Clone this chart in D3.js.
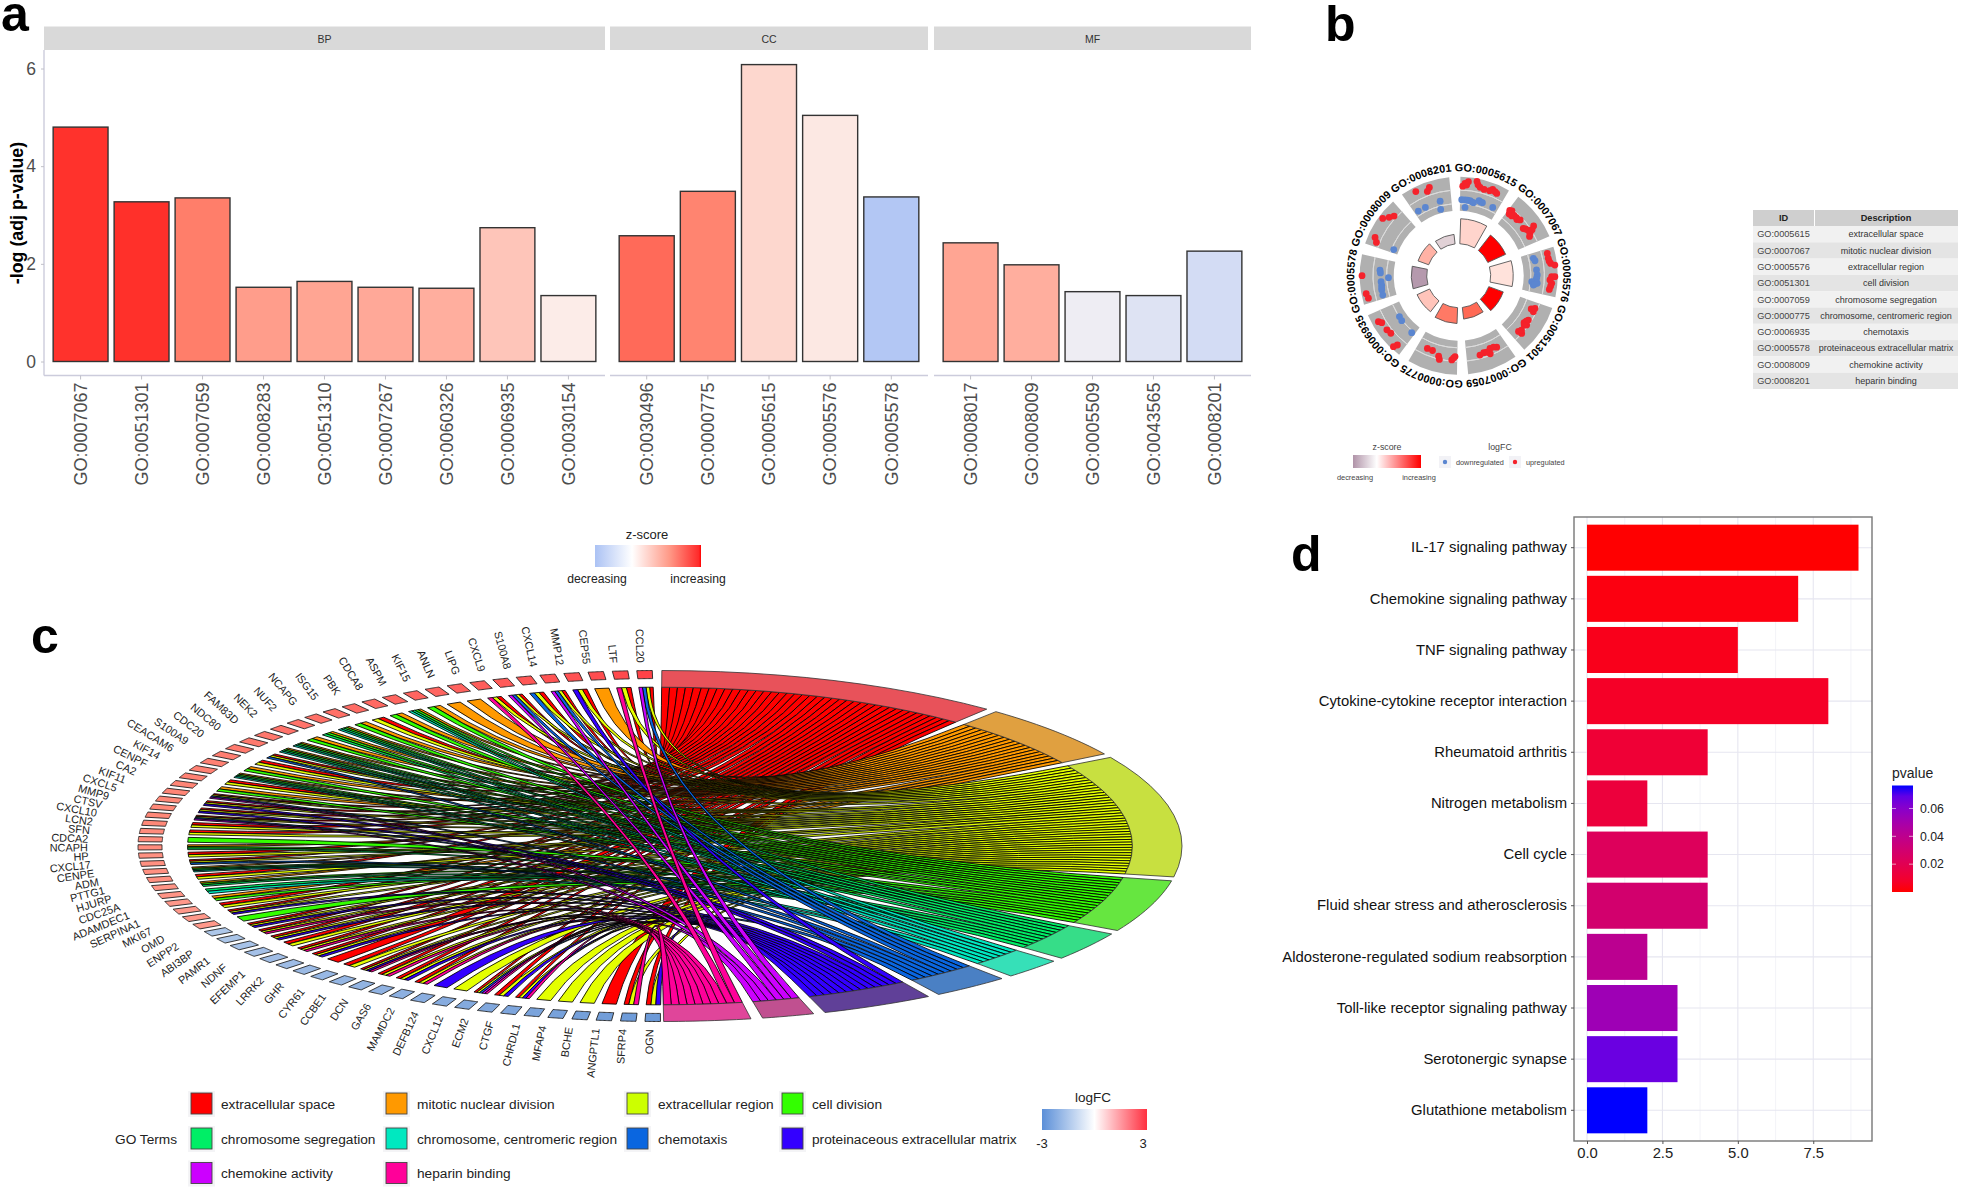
<!DOCTYPE html>
<html><head><meta charset="utf-8">
<script src="https://cdn.jsdelivr.net/npm/d3@7/dist/d3.min.js"></script>
<style>
html,body{margin:0;padding:0;background:#fff}
svg{display:block}
text{font-family:"Liberation Sans",Arial,sans-serif}
</style></head><body>
<svg id="chart" width="1961" height="1188" viewBox="0 0 1961 1188"></svg>
<script>
// ---------- panel a ----------
const bpIds=["GO:0007067","GO:0051301","GO:0007059","GO:0008283","GO:0051310","GO:0007267","GO:0060326","GO:0006935","GO:0030154"];
const bpVals=[4.80,3.27,3.35,1.52,1.64,1.52,1.50,2.74,1.35];
const bpZ=[0.87,0.88,0.58,0.42,0.38,0.36,0.33,0.22,0.04];
const ccIds=["GO:0030496","GO:0000775","GO:0005615","GO:0005576","GO:0005578"];
const ccVals=[2.575,3.485,6.08,5.04,3.37];
const ccZ=[0.66,0.55,0.14,0.06,-0.45];
const mfIds=["GO:0008017","GO:0008009","GO:0005509","GO:0043565","GO:0008201"];
const mfVals=[2.43,1.98,1.43,1.35,2.26];
const mfZ=[0.38,0.33,-0.08,-0.18,-0.25];
const yTicksA=[0,2,4,6];
// ---------- panel b ----------
const circleIds=["GO:0005615","GO:0007067","GO:0005576","GO:0051301","GO:0007059","GO:0000775","GO:0006935","GO:0005578","GO:0008009","GO:0008201"];
const circleDesc=["extracellular space","mitotic nuclear division","extracellular region","cell division","chromosome segregation","chromosome, centromeric region","chemotaxis","proteinaceous extracellular matrix","chemokine activity","heparin binding"];
const circleHeight=[6.0,4.7,5.4,3.7,2.8,3.8,3.3,3.7,2.7,2.3];
const circleZ=[0.15,1,0.09,1,0.62,0.55,0.22,-0.75,0.3,-0.3];
// [term, angle within the circle, logFC]
const circlePoints=[
[0,2.6,1.85],[0,3.9,2.35],[0,5.9,2.7],[0,5,2.08],[0,11,2.96],[0,12,2.43],[0,13.6,2.08],[0,16.4,1.9],[0,20,2],[0,21.5,2.4],[0,23.4,2.17],[0,24.8,2.03],
[0,2.3,-.56],[0,4.8,-.56],[0,6.7,-.56],[0,8.6,-.58],[0,10,-.74],[0,11.4,-.83],[0,15.2,-.26],[0,16.6,-.39],[0,18,-.42],[0,5.3,-1.87],[0,26.5,-.51],
[1,38,.67],[1,39.4,.85],[1,39.3,.1],[1,41.6,.14],[1,42.5,.49],[1,44.8,.49],[1,46,.3],[1,47.8,.67],[1,53.8,.14],[1,55,.4],[1,56.8,.67],[1,56.4,1.9],[1,59.3,.67],[1,61,.32],[1,58,1.3],
[2,75.9,2.15],[2,79,2.13],[2,82.4,2.4],[2,83.7,3.1],[2,81,2.2],[2,90.6,2.43],[2,90.6,3],[2,92.7,2.15],[2,94.7,2.5],[2,98.6,2.2],[2,96.5,2.35],
[2,76.9,-.44],[2,78.9,-.25],[2,85.8,-.2],[2,89.5,-.1],[2,91.5,-.2],[2,93.2,-.3],[2,94.7,-1.04],[2,97.1,-.7],[2,95.5,-.05],[2,96.5,-.5],
[3,115.7,.65],[3,114.6,.1],[3,113.2,.67],[3,122.5,.6],[3,126,.85],[3,125.7,.23],[3,124,.4],[3,127,.5],[3,133,.46],[3,132.5,1.1],[3,131,.7],
[4,165,.53],[4,162,.32],[4,158,.9],[4,156.7,0],[4,152,.32],[4,154,.05],[4,160,.4],
[5,203.3,0],[5,199.3,.02],[5,194,.67],[5,193,1.2],[5,184.7,.95],[5,182.6,.32],[5,183.6,.6],
[6,240.2,2.36],[6,238.6,1.94],[6,233,1.9],[6,229.7,1.73],[6,222.6,3.05],[6,221.5,2.36],[6,235.4,-1.27],[6,231.7,-1.16],[6,219.5,-.93],
[7,270,3.09],[7,259,2.66],[7,256,2.45],[7,274,-.05],[7,272,-.15],[7,268.4,-1.57],[7,265.6,-.23],[7,263,-.28],[7,259.4,-.16],[7,255.7,-.14],[7,261,-.2],
[8,307,2.82],[8,310,2.06],[8,312.7,1.55],[8,294.6,2.26],[8,292,1.69],[8,291.9,-1.62],
[9,333,2.7],[9,339.6,1.9],[9,341.6,2.43],[9,328,-.53],[9,334,-.56],[9,346,-.42],[9,344.8,-1.85]];
// ---------- panel c ----------
const chordGenes=["OGN","SFRP4","ANGPTL1","BCHE","MFAP4","CHRDL1","CTGF","ECM2","CXCL12","DEFB124","MAMDC2","GAS6","DCN","CCBE1","CYR61","GHR","LRRK2","EFEMP1","NDNF","PAMR1","ABI3BP","ENPP2","OMD","MKI67","SERPINA1","ADAMDEC1","CDC25A","HJURP","PTTG1","ADM","CENPE","CXCL17","HP","NCAPH","CDCA2","SFN","LCN2","CXCL10","CTSV","MMP9","CXCL5","KIF11","CA2","CENPF","KIF14","CEACAM6","S100A9","CDC20","NDC80","FAM83D","NEK2","NUF2","NCAPG","ISG15","PBK","CDCA8","ASPM","KIF15","ANLN","LIPG","CXCL9","S100A8","CXCL14","MMP12","CEP55","LTF","CCL20"];
const chordLogFC=[-2.5,-2.45,-2.4,-2.35,-2.3,-2.25,-2.2,-2.15,-2.1,-2.05,-2.0,-1.95,-1.9,-1.85,-1.8,-1.75,-1.7,-1.65,-1.6,-1.55,-1.5,-1.45,-1.4,
1.3,1.3,1.3,1.3,1.35,1.35,1.4,1.4,1.4,1.4,1.45,1.45,1.45,1.5,1.5,1.5,1.5,1.55,1.55,1.6,1.6,1.6,1.65,1.7,1.7,1.75,1.8,1.8,1.85,1.85,1.9,1.95,2,2,2,2.05,2.1,2.15,2.2,2.25,2.3,2.35,2.4,2.5];
const chordLinks=["ach","acj","a","c","c","c","achj","ach","acgij","c","h","acj","ach","acj","achj","ac","a","ach","acj","ac","ach","acj","ach","d","ach","ac","bd","ef","bde","ac","bdef","acg","ac","bde","d","ac","ac","acgi","ach","ach","acgi","bd","ac","bdef","bd","ac","acg","bdef","bdef","bd","bde","bdef","bd","ac","bd","bdef","bd","b","b","acj","acgi","acg","acgi","ach","b","acj","acgi"];
const termKeys="abcdefghij".split("");
const termLabels=circleDesc;
const termFill=["#ff0000","#ff9900","#e4ff00","#33ff00","#00ee66","#00e8c0","#0a66e0","#3300ff","#cc00ff","#ff0099"];
const termRing=["#e8525a","#e0a040","#c8e040","#66e640","#36dd88","#36e0b8","#4a80c4","#604098","#c05090","#e0459a"];
const logFCLegend=[-3,3];
// ---------- panel d ----------
const pathways=["IL-17 signaling pathway","Chemokine signaling pathway","TNF signaling pathway","Cytokine-cytokine receptor interaction","Rheumatoid arthritis","Nitrogen metabolism","Cell cycle","Fluid shear stress and atherosclerosis","Aldosterone-regulated sodium reabsorption","Toll-like receptor signaling pathway","Serotonergic synapse","Glutathione metabolism"];
const pathCounts=[9,7,5,8,4,2,4,4,2,3,3,2];
const pathP=[0.0001,0.002,0.004,0.007,0.011,0.013,0.023,0.029,0.041,0.053,0.067,0.0765];
const pTicks=[0.02,0.04,0.06];
const xTicksD=[0,2.5,5,7.5];

const svg=d3.select("#chart");
const defs=svg.append("defs");
function grad(id,stops){
  const g=defs.append("linearGradient").attr("id",id);
  stops.forEach(s=>g.append("stop").attr("offset",s[0]).attr("stop-color",s[1]));
  return g;
}
function label(g,x,y,t,size,fill,anchor,weight){
  return g.append("text").attr("x",x).attr("y",y).attr("dy","0.35em").attr("font-size",size).attr("fill",fill)
    .attr("text-anchor",anchor||"start").attr("font-weight",weight||"normal").text(t);
}
[["a",1,31],["b",1325,41],["c",31,653],["d",1291,571]].forEach(p=>{
  svg.append("text").attr("x",p[1]).attr("y",p[2]).attr("font-size",50).attr("font-weight","bold").attr("fill","#000").text(p[0]);
});

// ===== panel a =====
(function(){
  const g=svg.append("g");
  const zColor=d3.scaleLinear().domain([-1,0,0.3,0.6,1]).range(["#5a8ff5","#fbf5f3","#ffb4a4","#ff7a66","#ff1010"]);
  const y=d3.scaleLinear().domain([0,6]).range([361.5,68.5]);
  const facets=[["BP",bpIds,bpVals,bpZ,44,605],["CC",ccIds,ccVals,ccZ,610,928],["MF",mfIds,mfVals,mfZ,934,1251]];
  facets.forEach(f=>{
    const x=d3.scaleBand().domain(f[1]).range([f[4],f[5]]).paddingInner(0.1).paddingOuter(0.15);
    g.append("rect").attr("x",f[4]).attr("y",26.5).attr("width",f[5]-f[4]).attr("height",23.5).attr("fill","#d9d9d9");
    label(g,(f[4]+f[5])/2,39,f[0],10.5,"#333","middle");
    g.selectAll(null).data(f[1]).enter().append("rect")
      .attr("x",d=>x(d)).attr("width",x.bandwidth())
      .attr("y",(d,i)=>y(f[2][i])).attr("height",(d,i)=>y(0)-y(f[2][i]))
      .attr("fill",(d,i)=>zColor(f[3][i])).attr("stroke","#333").attr("stroke-width",1.4);
    const ax=g.append("g").attr("transform","translate(0,375.5)").call(d3.axisBottom(x).tickSize(4).tickPadding(4));
    ax.select(".domain").attr("stroke","#ccccdc").attr("stroke-width",1.4).attr("d",`M${f[4]},0H${f[5]}`);
    ax.selectAll("line").attr("stroke","#c0c0c8");
    ax.selectAll("text").attr("font-size",18).attr("fill","#4d4d4d").attr("font-family",null)
      .attr("transform","translate(0,7) rotate(-90)").attr("x",0).attr("y",0).attr("dy","0.35em").attr("text-anchor","end");
  });
  const ay=g.append("g").attr("transform","translate(44,0)").call(d3.axisLeft(y).tickValues(yTicksA).tickFormat(d3.format("d")).tickSize(3).tickPadding(5));
  ay.select(".domain").attr("stroke","#ccccdc").attr("stroke-width",1.4).attr("d","M0,50V375.5");
  ay.selectAll("line").attr("stroke","#c0c0c8");
  ay.selectAll("text").attr("font-size",17.5).attr("fill","#4d4d4d").attr("font-family",null);
  g.append("text").attr("transform","translate(16.5,213) rotate(-90)").attr("text-anchor","middle").attr("dy","0.35em")
    .attr("font-size",17.8).attr("font-weight","bold").attr("fill","#000").text("-log (adj p-value)");
  grad("gz",[[0,zColor(-0.5)],[0.35,"#fff"],[0.7,"#ff9a88"],[0.98,"#ff2a2a"],[1,"#f00"]]);
  g.append("rect").attr("x",595).attr("y",545).attr("width",106).attr("height",22).attr("fill","url(#gz)");
  label(g,647,534,"z-score",13,"#222","middle");
  label(g,597,579,"decreasing",12.2,"#222","middle");
  label(g,698,579,"increasing",12.2,"#222","middle");
})();

// ===== panel b =====
(function(){
  const g=svg.append("g").attr("transform","translate(1458.7,275.7)");
  const rad=Math.PI/180;
  const zCol=d3.scaleLinear().domain([-1,0,0.6,1]).range(["#9c7a96","#fff6f2","#ff6e58","#ff0000"]);
  const rFC=d3.scaleLinear().domain([-2.5,3.5]).range([65,99]);
  const rBar=d3.scaleLinear().domain([0,6]).range([32,57]);
  const arc=d3.arc();
  circleIds.forEach((id,i)=>{
    const s=36*i;
    g.append("path").attr("fill","#b0b0b0").attr("d",arc({innerRadius:65,outerRadius:99,startAngle:(s+1)*rad,endAngle:(s+30.5)*rad}));
    [-1.25,1.15].forEach(v=>{
      g.append("path").attr("fill","none").attr("stroke","#dcdcdc").attr("stroke-width",1)
       .attr("d",d3.arc()({innerRadius:rFC(v),outerRadius:rFC(v),startAngle:(s+1)*rad,endAngle:(s+30.5)*rad}));
    });
    g.append("path").attr("fill",zCol(circleZ[i])).attr("stroke","#555").attr("stroke-width",0.9)
     .attr("d",arc({innerRadius:32,outerRadius:rBar(circleHeight[i]),startAngle:(s+2)*rad,endAngle:(s+29.5)*rad}));
    const a0=(s+15-33)*rad,a1=(s+15+33)*rad,R=104.5;
    const p=d3.path();p.arc(0,0,R,a0-Math.PI/2,a1-Math.PI/2,false);
    defs.append("path").attr("id","lab"+i).attr("d",p.toString());
    g.append("text").attr("font-size",10.8).attr("font-weight","bold").attr("fill","#000").attr("text-anchor","middle")
      .append("textPath").attr("href","#lab"+i).attr("startOffset","50%").text(id);
  });
  g.selectAll("circle.pt").data(circlePoints).enter().append("circle").attr("class","pt")
    .attr("cx",d=>rFC(d[2])*Math.sin(d[1]*rad)).attr("cy",d=>-rFC(d[2])*Math.cos(d[1]*rad)).attr("r",3.4)
    .attr("fill",d=>{
      const blue=(d[2]<0&&d[0]!==1&&d[0]!==3)||(d[0]===2&&d[2]<1)||(d[0]===7&&d[2]<1);
      return blue?"#5b86d0":"#f5222b";
    });
  const l=svg.append("g");
  grad("gb",[[0,zCol(-0.8)],[0.35,"#fff"],[0.95,"#ff1010"],[1,"#f00"]]);
  l.append("rect").attr("x",1353).attr("y",455).attr("width",68).attr("height",13).attr("fill","url(#gb)");
  label(l,1387,447,"z-score",8.8,"#444","middle");
  label(l,1355,477,"decreasing",7.4,"#444","middle");
  label(l,1419,477,"increasing",7.4,"#444","middle");
  label(l,1500,447,"logFC",8.8,"#444","middle");
  [[1439,"#5b86d0","downregulated"],[1509,"#f5222b","upregulated"]].forEach(k=>{
    l.append("rect").attr("x",k[0]).attr("y",456).attr("width",12).attr("height",12).attr("fill","#f2f2f6");
    l.append("circle").attr("cx",k[0]+6).attr("cy",462).attr("r",2.2).attr("fill",k[1]);
    label(l,k[0]+17,462,k[2],7.3,"#444");
  });
  // table
  const t=svg.append("g");
  const x0=1753,x1=1958,xd=1815,top=210,hh=16,rh=16.3;
  t.append("rect").attr("x",x0).attr("y",top).attr("width",xd-x0-1).attr("height",hh).attr("fill","#cfcfcf");
  t.append("rect").attr("x",xd).attr("y",top).attr("width",x1-xd).attr("height",hh).attr("fill","#cfcfcf");
  label(t,1783.5,top+hh/2,"ID",9.2,"#222","middle","bold");
  label(t,1886,top+hh/2,"Description",9.2,"#222","middle","bold");
  circleIds.forEach((id,i)=>{
    const y=top+hh+i*rh;
    t.append("rect").attr("x",x0).attr("y",y).attr("width",x1-x0).attr("height",rh).attr("fill",i%2?"#e4e4e4":"#f1f1f1");
    label(t,1783.5,y+rh/2,id,9.2,"#444","middle");
    label(t,1886,y+rh/2,circleDesc[i],9.0,"#333","middle");
  });
})();

// ===== panel c =====
(function(){
  const g=svg.append("g");
  const cx=660,cy=846,rx=522,ry=175.5,rad=Math.PI/180;
  const E=(th,r)=>[cx+rx*r*Math.sin(th*rad),cy-ry*r*Math.cos(th*rad)];
  const geneAngle=d3.scaleLinear().domain([0,chordGenes.length-1]).range([180.8,358.3]);
  const lfc=d3.scaleLinear().domain([-3,0,1.5,3]).range(["#4f86d0","#ffffff","#ff8878","#ff2030"]);
  const counts=termKeys.map(k=>chordLinks.filter(s=>s.includes(k)).length);
  const total=d3.sum(counts),gap=1.3,start=0.2,end=179.6;
  const per=(end-start-gap*9)/total;
  const line=d3.line();
  function arcPts(a,b,r){return d3.range(0,13).map(i=>E(a+(b-a)*i/12,r));}
  const rChord=0.905;
  let cur=start;
  const terms=termKeys.map((k,i)=>{const s=cur,e=cur+counts[i]*per;cur=e+gap;return {k,i,s,e};});
  const geneW=1.75;
  const chords=g.append("g");
  terms.forEach(T=>{
    const members=d3.range(chordGenes.length).filter(i=>chordLinks[i].includes(T.k)).reverse();
    members.forEach((gi,j)=>{
      const t0=T.s+j*per,t1=t0+per;
      const keys=chordLinks[gi].split("").sort().reverse();
      const n=keys.length,slot=keys.indexOf(T.k);
      const c=geneAngle(gi),g0=c-geneW/2+slot*geneW/n,g1=g0+geneW/n;
      const p=d3.path();
      let q=E(g1,rChord);p.moveTo(q[0],q[1]);
      q=E(t0,rChord);p.quadraticCurveTo(cx,cy,q[0],q[1]);
      arcPts(t0,t1,rChord).slice(1).forEach(a=>p.lineTo(a[0],a[1]));
      q=E(g0,rChord);p.quadraticCurveTo(cx,cy,q[0],q[1]);
      p.closePath();
      chords.append("path").attr("d",p.toString()).attr("fill",termFill[T.i]).attr("stroke","#000").attr("stroke-width",0.85);
    });
    const pts=arcPts(T.s,T.e,1).concat(arcPts(T.e,T.s,rChord));
    g.append("path").attr("d",line(pts)+"Z").attr("fill",termRing[T.i]).attr("stroke","#333").attr("stroke-width",0.8);
  });
  chordGenes.forEach((name,i)=>{
    const th=geneAngle(i),a=th-0.85,b=th+0.85;
    const pts=arcPts(a,b,1).concat(arcPts(b,a,0.954));
    g.append("path").attr("d",line(pts)+"Z").attr("fill",lfc(chordLogFC[i])).attr("stroke","#222").attr("stroke-width",0.9);
    const co=Math.cos(th*rad);
    const lx=cx+2-4.5*co*co+rx*1.10*Math.sin(th*rad),ly=cy-ry*1.045*co;
    g.append("text").attr("transform",`translate(${lx},${ly}) rotate(${th-270})`).attr("text-anchor","end").attr("dy","0.35em")
      .attr("font-size",10.9).attr("fill","#222").text(name);
  });
  // legend
  const l=svg.append("g");
  const colX=[[191,221],[386,417],[627,658],[782,812]];
  const rows=[1103,1138,1172.5];
  const place=[[0,0],[1,0],[2,0],[3,0],[0,1],[1,1],[2,1],[3,1],[0,2],[1,2]];
  termLabels.forEach((t,i)=>{
    const c=colX[place[i][0]],y=rows[place[i][1]];
    l.append("rect").attr("x",c[0]-3).attr("y",y-12).attr("width",27).attr("height",26).attr("fill","#f4f4f6");
    l.append("rect").attr("x",c[0]).attr("y",y-10).attr("width",21).attr("height",21).attr("fill",termFill[i]==="#e4ff00"?"#ccff00":termFill[i]).attr("stroke","#444").attr("stroke-width",0.9);
    label(l,c[1],y+1,t,13.7,"#222");
  });
  label(l,115,1139,"GO Terms",13.7,"#222");
  label(l,1093,1097,"logFC",13.5,"#222","middle");
  grad("gc",[[0,"#5b8fd8"],[0.5,"#fff"],[1,"#ff3040"]]);
  l.append("rect").attr("x",1042).attr("y",1109).attr("width",105).attr("height",21).attr("fill","url(#gc)");
  label(l,1042,1143.5,String(logFCLegend[0]),13,"#222","middle");
  label(l,1143,1143.5,String(logFCLegend[1]),13,"#222","middle");
})();

// ===== panel d =====
(function(){
  const g=svg.append("g");
  const X0=1574,X1=1872,Y0=517,Y1=1141;
  const x=d3.scaleLinear().domain([0,9]).range([1587,1858.5]);
  const y=d3.scaleBand().domain(pathways).range([Y0,Y1]).paddingInner(0.1).paddingOuter(0.15);
  const pc=d3.scaleLinear().domain([0,0.0765]).range(["#ff0000","#0000ff"]).interpolate(d3.interpolateLab);
  g.append("rect").attr("x",X0).attr("y",Y0).attr("width",X1-X0).attr("height",Y1-Y0).attr("fill","#fff");
  [1.25,3.75,6.25,8.75].forEach(v=>g.append("line").attr("x1",x(v)).attr("x2",x(v)).attr("y1",Y0).attr("y2",Y1).attr("stroke","#f0f0f6").attr("stroke-width",0.8));
  xTicksD.forEach(v=>g.append("line").attr("x1",x(v)).attr("x2",x(v)).attr("y1",Y0).attr("y2",Y1).attr("stroke","#e6e6f0").attr("stroke-width",1.1));
  pathways.forEach(p=>g.append("line").attr("x1",X0).attr("x2",X1).attr("y1",y(p)+y.bandwidth()/2).attr("y2",y(p)+y.bandwidth()/2).attr("stroke","#e6e6f0").attr("stroke-width",1.1));
  g.selectAll(null).data(pathways).enter().append("rect")
    .attr("x",x(0)).attr("y",d=>y(d)).attr("height",y.bandwidth())
    .attr("width",(d,i)=>x(pathCounts[i])-x(0)).attr("fill",(d,i)=>pc(pathP[i]));
  g.append("rect").attr("x",X0).attr("y",Y0).attr("width",X1-X0).attr("height",Y1-Y0).attr("fill","none").attr("stroke","#777").attr("stroke-width",1.4);
  const ax=g.append("g").attr("transform",`translate(0,${Y1})`).call(d3.axisBottom(x).tickValues(xTicksD).tickFormat(d3.format(".1f")).tickSize(3).tickPadding(3));
  ax.select(".domain").remove();ax.selectAll("line").attr("stroke","#555");
  ax.selectAll("text").attr("font-size",14.8).attr("fill","#222").attr("font-family",null);
  const ay=g.append("g").attr("transform",`translate(${X0},0)`).call(d3.axisLeft(y).tickSize(3).tickPadding(4));
  ay.select(".domain").remove();ay.selectAll("line").attr("stroke","#555");
  ay.selectAll("text").attr("font-size",14.85).attr("fill","#111").attr("font-family",null);
  grad("gd",d3.range(0,1.01,0.1).map(t=>[t,pc(0.0765*(1-t))])).attr("x1",0).attr("x2",0).attr("y1",0).attr("y2",1);
  const pTop=785.5,pBot=892;
  g.append("rect").attr("x",1892).attr("y",pTop).attr("width",21).attr("height",pBot-pTop).attr("fill","url(#gd)");
  const py=d3.scaleLinear().domain([0,0.0765]).range([pBot,pTop]);
  pTicks.forEach(v=>{
    g.append("line").attr("x1",1892).attr("x2",1896).attr("y1",py(v)).attr("y2",py(v)).attr("stroke","#fff").attr("stroke-width",.6);
    g.append("line").attr("x1",1909).attr("x2",1913).attr("y1",py(v)).attr("y2",py(v)).attr("stroke","#fff").attr("stroke-width",.6);
    label(g,1920,py(v),v.toFixed(2),12.3,"#222");
  });
  label(g,1892,773.5,"pvalue",14,"#222");
})();
</script>
</body></html>
